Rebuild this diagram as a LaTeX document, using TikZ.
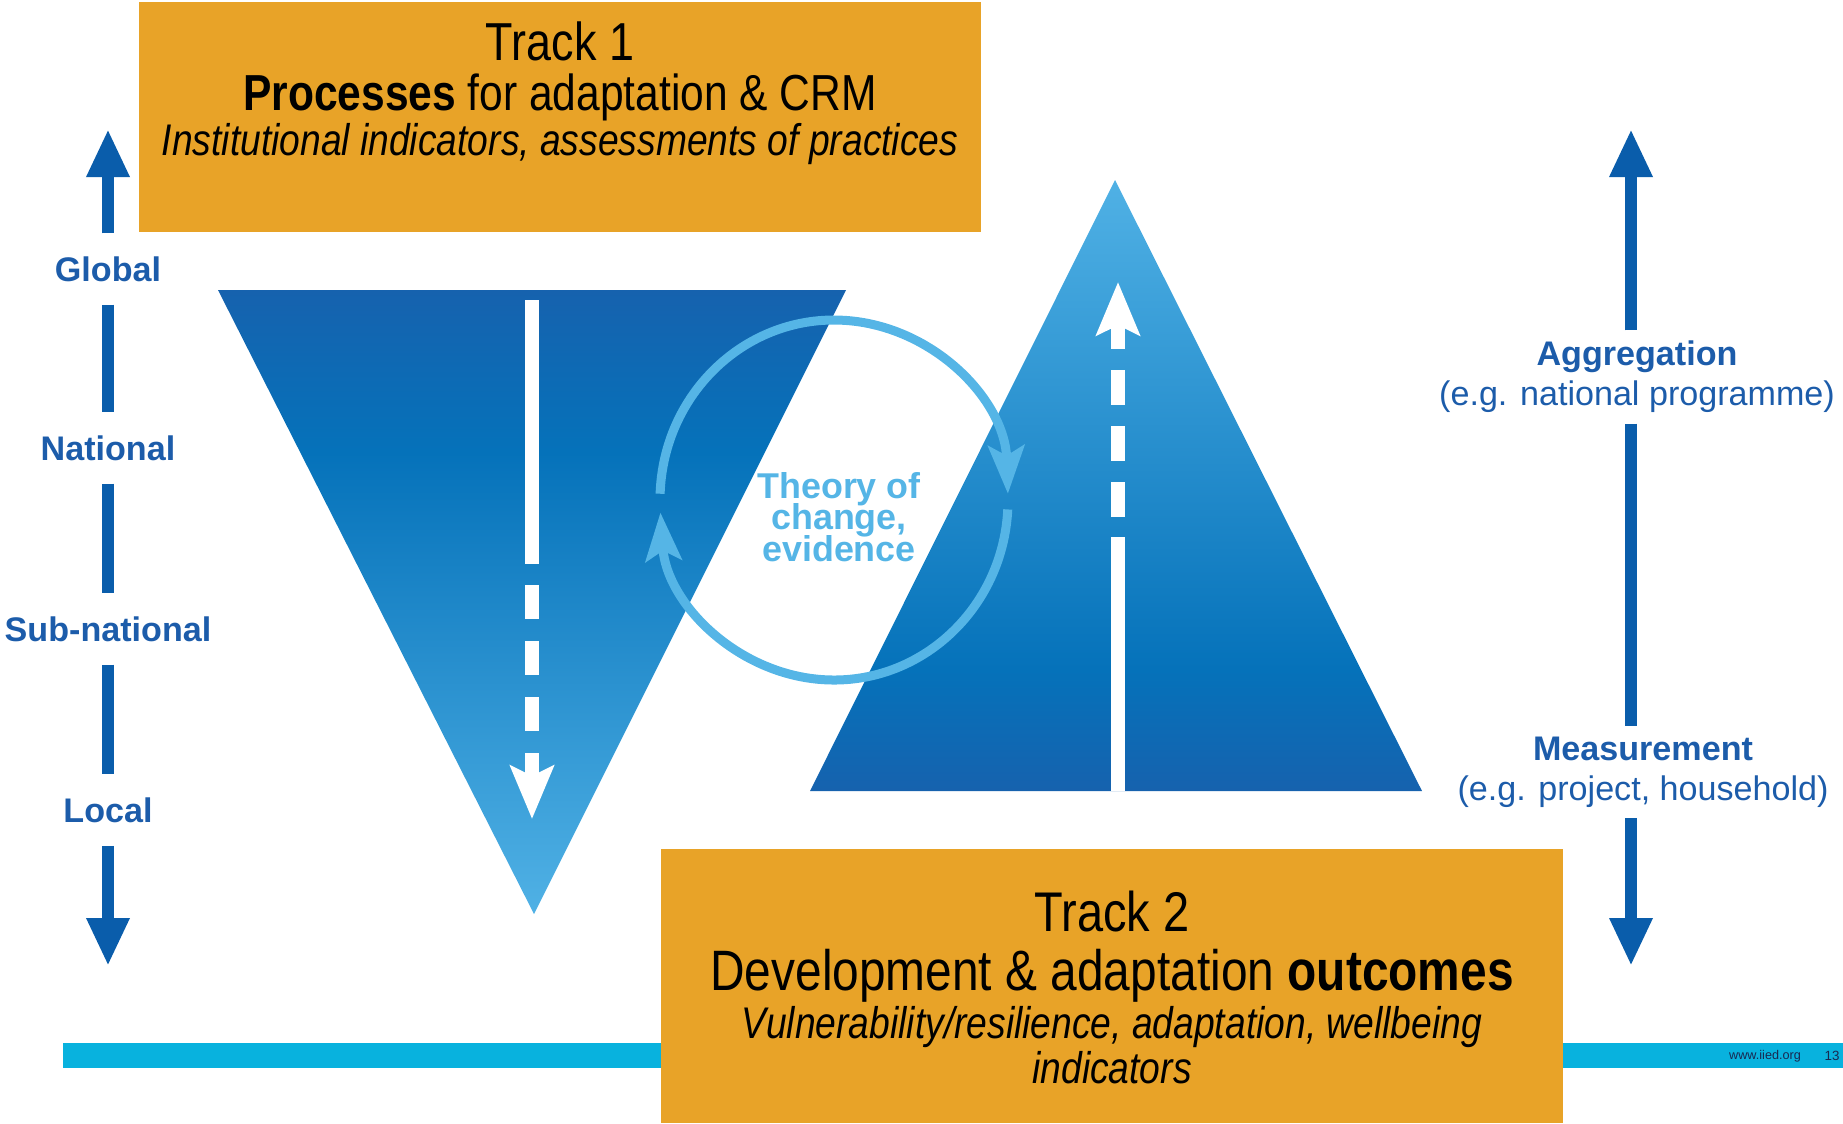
\documentclass[tikz,border=0pt]{standalone}
\usepackage{fontspec}
\setmainfont{Liberation Sans}
\newfontfamily\narrowfont[FakeStretch=0.84]{Liberation Sans}
\usetikzlibrary{arrows.meta}

\definecolor{trackorange}{RGB}{232,163,40}
\definecolor{barcyan}{RGB}{8,178,222}
\definecolor{arrowblue}{RGB}{10,93,171}
\definecolor{labelblue}{RGB}{28,92,170}
\definecolor{toclight}{RGB}{85,181,230}
\definecolor{tridark}{RGB}{22,98,174}
\definecolor{trimid}{RGB}{5,114,186}
\definecolor{trilight}{RGB}{80,177,229}
\definecolor{footnavy}{RGB}{25,40,80}

\newcommand\tightlines{\lineskiplimit=-10pt\relax}

\pgfdeclareverticalshading{vdown}{100bp}{color(0bp)=(trilight); color(25bp)=(trilight); color(62bp)=(trimid); color(75bp)=(tridark); color(100bp)=(tridark)}
\pgfdeclareverticalshading{vup}{100bp}{color(0bp)=(tridark); color(25bp)=(tridark); color(35bp)=(trimid); color(75bp)=(trilight); color(100bp)=(trilight)}

\tikzset{
	scalelabel/.style={font=\fontsize{9.7}{11}\selectfont\bfseries, text=labelblue, minimum height=0.7cm, inner sep=0pt},
	rlabel/.style={font=\fontsize{9.7}{11.4}\selectfont, text=labelblue, align=center, inner xsep=0pt, inner ysep=0.1cm},
	bigarrow/.style={draw=arrowblue, line width=0.12cm},
	bighead/.style={-{Triangle[length=0.48cm,width=0.4cm]}},
	whiteline/.style={draw=white, line width=0.14cm},
	whitehead/.style={-{Stealth[length=0.53cm,width=0.43cm,inset=0.1cm]}},
	tocarrow/.style={draw=toclight, line width=0.09cm, -{Stealth[length=0.48cm,width=0.36cm,inset=0.1cm]}},
	trackbox/.style={fill=trackorange, inner sep=0pt},
	tracktext/.style={anchor=base, inner sep=0pt},
}

\begin{document}
\begin{tikzpicture}[x=0.01cm, y=-0.01cm]
			%%%%% START %%%%%
			\useasboundingbox (0,0) rectangle (1843,1123);
			
			% footer bar
			\fill[barcyan] (63,1043) rectangle (1843,1068);
			\node[font=\fontsize{3.6}{4}\selectfont, text=footnavy, inner sep=0pt] (site) at (1765,1056) {www.iied.org};
			\node[font=\fontsize{3.8}{4}\selectfont, text=footnavy, inner sep=0pt] (page) at (1832,1056) {13};
			
			% the two triangles
			\shade[shading=vdown] (218,290) -- (846,290) -- (534,914) -- cycle;
			\shade[shading=vup] (1115,180) -- (1422,791) -- (810,791) -- cycle;
			
			\coordinate (dtop) at (532,300);
			\coordinate (dsplit) at (532,564);
			\coordinate (ddash) at (532,585);
			\coordinate (dtip) at (532,819);
			\draw[whiteline] (dtop) -- (dsplit);
			\draw[whiteline, whitehead, dash pattern=on 0.34cm off 0.22cm] (ddash) -- (dtip);
			
			\coordinate (ubase) at (1118,791);
			\coordinate (usplit) at (1118,537);
			\coordinate (udash) at (1118,517);
			\coordinate (utip) at (1118,282);
			\draw[whiteline] (ubase) -- (usplit);
			\draw[whiteline, whitehead, dash pattern=on 0.35cm off 0.21cm] (udash) -- (utip);
			
			% theory of change loop
			\coordinate (toc) at (834,500);
			\draw[tocarrow] (toc) ++(-178:174 and 180) arc[start angle=-178, end angle=-2, x radius=174, y radius=180];
			\draw[tocarrow] (toc) ++(3:174 and 180) arc[start angle=3, end angle=176, x radius=174, y radius=180];
			\node[font=\fontsize{10.2}{9}\selectfont\bfseries\tightlines, text=toclight, align=center, inner sep=0pt] (toctext) at (839,517) {Theory of\\change,\\evidence};
			
			% left scale
			\coordinate (ltop) at (108,129);
			\coordinate (lbot) at (108,966);
			\node[scalelabel] (global) at (108,269) {Global};
			\node[scalelabel] (national) at (108,448) {National};
			\node[scalelabel] (subnat) at (108,629) {Sub-national};
			\node[scalelabel] (local) at (108,810) {Local};
			\draw[bigarrow, bighead] (global) -- (ltop);
			\draw[bigarrow] (global) -- (national);
			\draw[bigarrow] (national) -- (subnat);
			\draw[bigarrow] (subnat) -- (local);
			\draw[bigarrow, bighead] (local) -- (lbot);
			
			% right scale
			\coordinate (rtop) at (1631,129);
			\coordinate (rbot) at (1631,966);
			\node[rlabel] (aggr) at (1637,377) {\textbf{Aggregation}\\(e.g. national programme)};
			\node[rlabel] (meas) at (1643,772) {\textbf{Measurement}\\(e.g. project, household)};
			\draw[bigarrow, bighead] (aggr.north -| rtop) -- (rtop);
			\draw[bigarrow] (aggr.south -| rtop) -- (meas.north -| rtop);
			\draw[bigarrow, bighead] (meas.south -| rtop) -- (rbot);
			
			% track 1
			\node[trackbox, minimum width=8.42cm, minimum height=2.30cm] (track1) at (560,117) {};
			\node[tracktext, font=\narrowfont\fontsize{15.2}{16}\selectfont] (t1title) at (560,60) {Track 1};
			\node[tracktext, font=\narrowfont\fontsize{14.4}{16}\selectfont] (t1main) at (560,110) {\textbf{Processes} for adaptation \& CRM};
			\node[tracktext, font=\narrowfont\fontsize{12.6}{14}\selectfont\itshape] (t1sub) at (560,155) {Institutional indicators, assessments of practices};
			
			% track 2
			\node[trackbox, minimum width=9.02cm, minimum height=2.74cm] (track2) at (1112,986) {};
			\node[tracktext, font=\narrowfont\fontsize{15.9}{17}\selectfont] (t2title) at (1112,931) {Track 2};
			\node[tracktext, font=\narrowfont\fontsize{16.2}{18}\selectfont] (t2main) at (1112,990) {Development \& adaptation \textbf{outcomes}};
			\node[tracktext, font=\narrowfont\fontsize{12.6}{14}\selectfont\itshape] (t2sub) at (1112,1038) {Vulnerability/resilience, adaptation, wellbeing};
			\node[tracktext, font=\narrowfont\fontsize{12.6}{14}\selectfont\itshape] (t2subb) at (1112,1083) {indicators};
			%%%%% END %%%%%
\end{tikzpicture}
\end{document}
